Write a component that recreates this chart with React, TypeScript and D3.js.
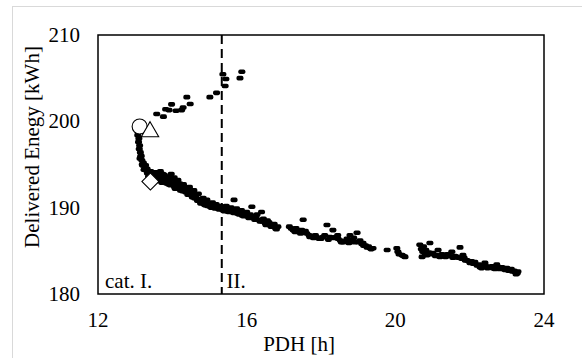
import React from "react";
import * as d3 from "d3";

const xTicks = [12, 16, 20, 24];
const yTicks = [180, 190, 200, 210];
const categoryBoundary = 15.33;
const categoryLabels = [
  { text: "cat. I.", x: 12.19 },
  { text: "II.", x: 15.46 },
];

const upperBranch: [number, number][] = [
  [13.58, 200.85], [13.76, 200.54], [13.82, 201.4], [13.91, 201.3], [13.98, 201.97],
  [14.1, 201.23], [14.25, 201.3], [14.29, 201.6], [14.39, 202.8], [14.48, 202.0],
  [15.01, 202.8], [15.19, 203.3], [15.42, 204.1], [15.44, 204.9], [15.36, 205.45],
  [15.82, 205.0], [15.87, 205.75],
];

const mainCurve: [number, number][] = [
  [13.06, 199.2], [13.08, 198.8], [13.07, 198.4], [13.1, 198.0], [13.09, 197.6],
  [13.12, 197.2], [13.11, 196.8], [13.14, 196.4], [13.16, 196.0], [13.13, 195.7],
  [13.18, 195.5], [13.22, 195.2], [13.2, 194.9], [13.26, 194.7], [13.24, 194.4],
  [13.3, 194.3], [13.33, 194.0], [13.38, 193.9], [13.36, 193.6], [13.45, 193.7],
  [13.5, 193.9], [13.52, 193.4], [13.58, 193.6], [13.62, 194.0], [13.65, 193.3],
  [13.7, 193.5], [13.72, 192.9], [13.78, 193.8], [13.8, 193.2], [13.85, 192.8],
  [13.88, 193.6], [13.92, 193.1], [13.95, 192.6], [14.0, 193.3], [14.03, 192.8],
  [14.06, 192.4], [14.1, 193.0], [14.14, 192.5], [14.18, 192.2], [14.2, 192.8],
  [14.25, 192.3], [14.28, 191.9], [14.32, 192.4], [14.36, 191.8], [14.4, 192.1],
  [14.44, 191.6], [14.48, 191.9], [14.52, 191.4], [14.56, 191.7], [14.6, 191.1],
  [14.63, 191.4], [14.68, 190.8], [14.72, 191.0], [14.76, 190.5], [14.8, 190.8],
  [14.85, 190.4], [14.9, 190.6], [14.95, 190.2], [15.0, 190.4], [15.05, 190.0],
  [15.1, 190.3], [15.15, 189.9], [15.2, 190.1], [15.26, 189.8], [15.3, 190.2],
  [15.36, 189.7], [15.42, 189.9], [15.48, 189.6], [15.55, 189.8], [15.62, 189.5],
  [15.66, 190.9], [15.7, 189.7], [15.76, 189.3], [15.82, 189.5], [15.88, 189.1],
  [15.95, 189.4], [16.02, 189.0], [16.1, 189.2], [16.14, 190.1], [16.18, 188.8],
  [16.25, 189.0], [16.32, 188.6], [16.4, 189.5], [16.42, 188.4], [16.5, 188.2],
  [16.56, 188.5], [16.62, 188.0], [16.7, 187.9], [16.78, 187.6], [16.84, 187.8],
  [17.15, 187.8], [17.25, 187.4], [17.33, 187.6], [17.4, 187.2], [17.48, 187.4],
  [17.52, 188.6], [17.55, 187.1], [17.62, 187.0], [17.68, 186.8], [17.75, 186.7],
  [17.8, 186.5], [17.88, 186.6], [17.95, 186.4], [18.05, 186.6], [18.16, 188.0],
  [18.24, 186.6], [18.32, 187.4], [18.4, 186.6], [18.46, 186.4], [18.52, 186.2],
  [18.59, 186.0], [18.66, 186.1], [18.78, 186.8], [18.83, 186.25], [18.9, 186.0],
  [18.97, 187.1], [19.05, 186.2], [19.1, 185.8], [19.13, 185.9], [19.2, 185.6],
  [19.24, 185.4], [19.32, 185.3], [19.4, 185.3], [19.78, 185.1], [20.04, 185.3],
  [20.1, 184.6], [20.18, 184.5], [20.26, 184.3], [20.66, 185.7], [20.72, 184.3],
  [20.74, 184.9], [20.76, 185.5], [20.8, 184.7], [20.85, 184.5], [20.93, 185.9],
  [20.9, 184.8], [21.01, 184.75], [21.08, 184.4], [21.15, 185.1], [21.2, 184.3],
  [21.3, 184.5], [21.4, 184.6], [21.52, 184.9], [21.55, 184.2], [21.65, 184.3],
  [21.74, 185.4], [21.78, 184.1], [21.82, 184.5], [21.88, 183.9], [21.93, 183.9],
  [22.01, 183.6], [22.05, 183.8], [22.14, 183.7], [22.2, 183.3], [22.28, 183.1],
  [22.35, 183.3], [22.41, 183.6], [22.48, 183.0], [22.55, 183.1], [22.62, 183.0],
  [22.73, 183.4], [22.8, 182.9], [22.87, 183.1], [22.95, 182.8], [23.0, 183.0],
  [23.08, 182.8], [23.15, 182.6], [23.22, 182.55], [23.28, 182.4], [23.3, 182.6],
];

const mainCurveSpread: [number, number][] = [
  [13.15, 195.9], [13.19, 195.0], [13.28, 194.9], [13.32, 194.5], [13.42, 194.2],
  [13.47, 193.3], [13.55, 194.1], [13.6, 193.1], [13.68, 194.2], [13.74, 193.9],
  [13.82, 193.5], [13.9, 192.7], [13.97, 193.9], [14.05, 193.5], [14.08, 192.2],
  [14.15, 193.2], [14.22, 192.0], [14.3, 192.7], [14.35, 192.1], [14.42, 191.5],
  [14.46, 192.4], [14.54, 191.2], [14.58, 192.0], [14.66, 191.0], [14.7, 191.6],
  [14.78, 190.7], [14.83, 191.1], [14.88, 190.3], [14.93, 190.9], [15.02, 190.1],
  [15.08, 190.6], [15.13, 190.0], [15.18, 190.4], [15.23, 189.9], [15.33, 190.0],
  [15.39, 189.6], [15.45, 190.2], [15.52, 189.5], [15.58, 190.0], [15.65, 189.4],
  [15.73, 189.9], [15.8, 189.2], [15.86, 189.7], [15.92, 189.0], [16.0, 189.5],
  [16.06, 188.8], [16.15, 189.0], [16.22, 188.6], [16.28, 189.2], [16.36, 188.4],
  [16.45, 188.7], [16.52, 188.0], [16.6, 188.3], [16.66, 187.8], [16.74, 188.1],
  [16.8, 187.5], [17.2, 187.6], [17.3, 187.2], [17.45, 187.0], [17.58, 187.3],
  [17.7, 186.6], [17.85, 186.8], [18.0, 186.4], [18.1, 186.8], [18.2, 186.3],
  [18.35, 186.5], [18.45, 186.8], [18.55, 186.0], [18.7, 186.4], [18.75, 185.9],
  [18.88, 186.5], [19.0, 186.0], [19.15, 185.6], [19.28, 185.5], [19.35, 185.2],
  [20.07, 184.9], [20.22, 184.4], [20.7, 185.2], [20.82, 185.1], [20.97, 184.6],
  [21.1, 184.5], [21.25, 184.6], [21.35, 184.3], [21.45, 184.4], [21.6, 184.4],
  [21.7, 184.2], [21.85, 184.2], [21.98, 183.8], [22.1, 183.5], [22.25, 183.4],
  [22.32, 183.0], [22.45, 183.2], [22.6, 183.2], [22.68, 182.9], [22.78, 183.1],
  [22.9, 182.9], [23.05, 182.7], [23.12, 182.9], [23.2, 182.7], [23.25, 182.3],
];

const circlePoint: [number, number] = [13.12, 199.4];
const trianglePoint: [number, number] = [13.4, 198.8];
const diamondPoint: [number, number] = [13.41, 193.03];

const FONT = "'Liberation Serif', 'Times New Roman', serif";
const FS = 21;

export default function App() {
  const W = 582;
  const H = 358;
  const x = d3.scaleLinear().domain([12, 24]).range([98, 544]);
  const y = d3.scaleLinear().domain([180, 210]).range([294, 35]);
  const all = [...upperBranch, ...mainCurve, ...mainCurveSpread];
  const tri = d3.symbol(d3.symbolTriangle, 130)();
  const [cx, cy] = circlePoint;
  const [dx, dy] = diamondPoint;
  const [tx, ty] = trianglePoint;
  const ts = { fontFamily: FONT, fontSize: FS, fill: "#000" } as React.CSSProperties;

  return (
    <svg
      width={W}
      height={H}
      style={{ position: "absolute", left: 0, top: 0, background: "#fff" }}
    >
      <rect x={12.5} y={6.5} width={W} height={H} fill="#fff" stroke="#d9d9d9" strokeWidth={1} />
      {all.map(([a, b], i) => (
        <rect
          key={i}
          x={x(a) - 3.5}
          y={y(b) - 2.3}
          width={7}
          height={4.6}
          rx={1.8}
          fill="#000"
        />
      ))}
      <circle cx={x(cx)} cy={y(cy)} r={7.5} fill="#fff" stroke="#000" strokeWidth={1.1} />
      <path d={tri!} transform={`translate(${x(tx)},${y(ty)})`} fill="#fff" stroke="#000" strokeWidth={1.1} />
      <rect
        x={-6}
        y={-6}
        width={12}
        height={12}
        transform={`translate(${x(dx)},${y(dy)}) rotate(45)`}
        fill="#fff"
        stroke="#000"
        strokeWidth={1.1}
      />
      <line
        x1={x(categoryBoundary)}
        x2={x(categoryBoundary)}
        y1={y(210)}
        y2={y(180)}
        stroke="#000"
        strokeWidth={2}
        strokeDasharray="9,5"
      />
      <rect x={98} y={35} width={446} height={259} fill="none" stroke="#000" strokeWidth={1.5} />
      {yTicks.map((t) => (
        <text key={t} x={80} y={y(t)} textAnchor="end" dominantBaseline="central" style={ts}>
          {t}
        </text>
      ))}
      {xTicks.map((t) => (
        <text key={t} x={x(t)} y={320} textAnchor="middle" dominantBaseline="central" style={ts}>
          {t}
        </text>
      ))}
      {categoryLabels.map((c) => (
        <text key={c.text} x={x(c.x)} y={288} style={ts}>
          {c.text}
        </text>
      ))}
      <text x={299} y={344} textAnchor="middle" dominantBaseline="central" style={ts}>
        PDH [h]
      </text>
      <text
        transform={`translate(32,147) rotate(-90)`}
        textAnchor="middle"
        dominantBaseline="central"
        style={ts}
      >
        Delivered Enegy [kWh]
      </text>
    </svg>
  );
}
